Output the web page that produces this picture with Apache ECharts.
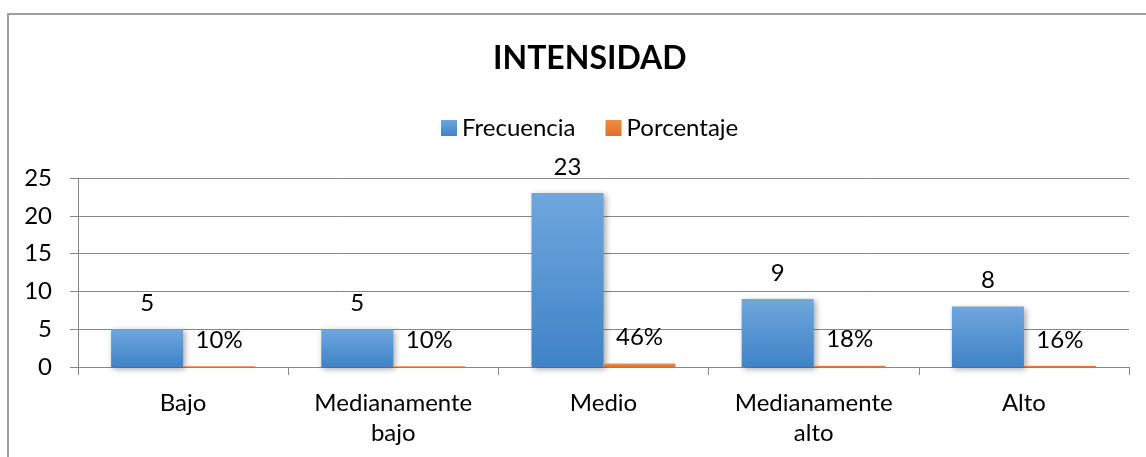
<!DOCTYPE html>
<html>
<head>
<meta charset="utf-8">
<script src="https://cdn.jsdelivr.net/npm/echarts@6/dist/echarts.min.js"></script>
<style>
  html, body { margin: 0; padding: 0; background: #fff; }
  #chart { width: 1146px; height: 457px; }
</style>
</head>
<body>
<div id="chart"></div>
<script>
  const categories = ['Bajo', 'Medianamente\nbajo', 'Medio', 'Medianamente\nalto', 'Alto'];
  const frecuencia = [5, 5, 23, 9, 8];
  const porcentaje = [0.10, 0.10, 0.46, 0.18, 0.16];
  const yTicks = [0, 5, 10, 15, 20, 25];

  const FONT = 'Lato, "Open Sans", sans-serif';
  const chart = echarts.init(document.getElementById('chart'));

  const barShadow = {
    shadowBlur: 6,
    shadowColor: 'rgba(0,0,0,0.35)',
    shadowOffsetX: 2,
    shadowOffsetY: 2,
  };

  chart.setOption({
    animation: false,
    textStyle: { fontFamily: FONT },
    title: {
      text: 'INTENSIDAD',
      left: 488,
      top: 38,
      textStyle: { fontSize: 32, fontWeight: 'bold', color: '#000', fontFamily: FONT },
    },
    legend: {
      top: 111,
      left: 436,
      itemWidth: 16,
      itemHeight: 16,
      itemGap: 30,
      icon: 'rect',
      textStyle: { fontSize: 24, color: '#000', fontFamily: FONT },
      data: ['Frecuencia', 'Porcentaje'],
    },
    graphic: [{
      type: 'rect',
      shape: { x: 8, y: 14, width: 1150, height: 460 },
      style: { fill: 'none', stroke: '#a0a0a0', lineWidth: 2 },
      silent: true,
    }],
    grid: { left: 78, right: 17, top: 178, bottom: 90 },
    xAxis: {
      type: 'category',
      data: categories,
      axisLine: { lineStyle: { color: '#868686', width: 1 } },
      axisTick: { show: true, length: 8, lineStyle: { color: '#868686' } },
      axisLabel: { fontSize: 24, color: '#000', lineHeight: 30, margin: 21, fontFamily: FONT },
    },
    yAxis: {
      type: 'value',
      min: 0,
      max: 25,
      interval: 5,
      axisLine: { show: true, lineStyle: { color: '#868686' } },
      axisTick: { show: true, length: 8, lineStyle: { color: '#868686' } },
      axisLabel: {
        fontSize: 24, color: '#000', margin: 26, fontFamily: FONT,
        formatter: v => (yTicks.indexOf(v) >= 0 ? String(v) : ''),
      },
      splitLine: { lineStyle: { color: '#868686', width: 1 } },
    },
    series: [
      {
        name: 'Frecuencia',
        type: 'bar',
        data: frecuencia,
        barWidth: 72,
        barGap: '0%',
        itemStyle: Object.assign({
          color: new echarts.graphic.LinearGradient(0, 0, 0, 1, [
            { offset: 0, color: '#6fa6dd' },
            { offset: 1, color: '#3f83c8' },
          ]),
        }, barShadow),
        label: {
          show: true, position: 'top', distance: 14,
          fontSize: 24, color: '#000', fontFamily: FONT,
        },
      },
      {
        name: 'Porcentaje',
        type: 'bar',
        data: porcentaje,
        barWidth: 72,
        itemStyle: {
          color: new echarts.graphic.LinearGradient(0, 0, 0, 1, [
            { offset: 0, color: '#f28a44' },
            { offset: 1, color: '#e0702a' },
          ]),
        },
        label: {
          show: true, position: 'top', distance: 14,
          fontSize: 24, color: '#000', fontFamily: FONT,
          formatter: p => Math.round(p.value * 100) + '%',
        },
      },
    ],
  });
</script>
</body>
</html>
